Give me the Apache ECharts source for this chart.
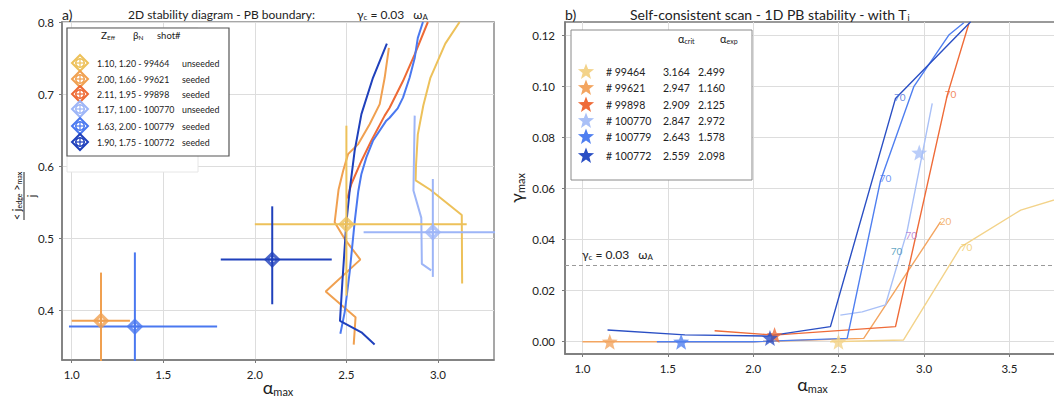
<!DOCTYPE html>
<html><head><meta charset="utf-8">
<script src="https://cdn.jsdelivr.net/npm/echarts@6/dist/echarts.min.js"></script>
<style>html,body{margin:0;padding:0;background:#fff;}#c{width:1054px;height:399px;}</style>
</head><body><div id="c"></div>
<script>
// ---------------- DATA ----------------
const shots = ['99464', '99621', '99898', '100770', '100779', '100772'];
const zeff = ['1.10', '2.00', '2.11', '1.17', '1.63', '1.90'];
const betaN = ['1.20', '1.66', '1.95', '1.00', '2.00', '1.75'];
const seeding = ['unseeded', 'seeded', 'seeded', 'unseeded', 'seeded', 'seeded'];
const alphaCrit = ['3.164', '2.947', '2.909', '2.847', '2.643', '2.559'];
const alphaExp = ['2.499', '1.160', '2.125', '2.972', '1.578', '2.098'];

// panel a) measured points with error bars
const measShots = ['99464', '99621', '100770', '100779', '100772'];
const measAlpha = [2.50, 1.16, 2.972, 1.345, 2.095];
const measJ = [0.519, 0.385, 0.508, 0.377, 0.470];
const measAlphaLo = [2.00, 1.00, 2.594, 0.985, 1.814];
const measAlphaHi = [3.157, 1.318, 3.40, 1.794, 2.420];
const measJLo = [0.420, 0.30, 0.446, 0.30, 0.408];
const measJHi = [0.656, 0.452, 0.582, 0.480, 0.544];

// panel a) PB boundaries at gamma_c = 0.03 wA  [alpha_max, <j_edge>_max/j]
const bnd99464 = [[3.118,0.80],[3.04,0.770],[2.958,0.722],[2.92,0.684],[2.89,0.644],[2.88,0.60],[2.878,0.58],[2.958,0.567],[3.13,0.532],[3.132,0.437]];
const bnd99621 = [[2.732,0.764],[2.709,0.7225],[2.682,0.686],[2.627,0.658],[2.563,0.630],[2.509,0.6165],[2.482,0.593],[2.457,0.567],[2.436,0.522],[2.491,0.4985],[2.576,0.470],[2.387,0.4256],[2.55,0.39],[2.54,0.352]];
const bnd99898 = [[2.945,0.80],[2.873,0.755],[2.809,0.718],[2.736,0.681],[2.709,0.670],[2.636,0.635],[2.582,0.607],[2.527,0.575],[2.505,0.555]];
const bnd100770 = [[2.873,0.67],[2.866,0.566],[2.909,0.528],[2.912,0.464],[2.963,0.455]];
const bnd100779 = [[2.918,0.80],[2.89,0.778],[2.873,0.75],[2.845,0.7225],[2.809,0.695],[2.78,0.68],[2.736,0.667],[2.718,0.663],[2.645,0.635],[2.609,0.612],[2.582,0.589],[2.565,0.565],[2.545,0.522],[2.518,0.453],[2.491,0.3975],[2.467,0.367]];
const bnd100772 = [[2.721,0.770],[2.645,0.7225],[2.582,0.672],[2.545,0.621],[2.518,0.566],[2.50,0.522],[2.478,0.439],[2.465,0.385],[2.582,0.369],[2.654,0.352]];

// panel b) growth rate scans [alpha_max, gamma_max]
const gam99464 = [[2.45,0],[2.88,0.0007],[3.214,0.037],[3.566,0.0515],[3.8,0.0562]];
const gam99621 = [[1.0,0],[1.44,0],[2.0,0],[2.647,0.0013],[3.097,0.047]];
const gam99898 = [[1.774,0.0043],[2.12,0.0026],[2.833,0.0059],[2.999,0.0554],[3.136,0.0965],[3.263,0.1246]];
const gam100770 = [[2.51,0.0104],[2.638,0.0117],[2.774,0.0144],[2.9,0.043],[3.048,0.0933]];
const gam100779 = [[1.436,0],[2.0,0],[2.55,0.0013],[2.745,0.063],[2.94,0.0998],[3.145,0.12],[3.233,0.1248]];
const gam100772 = [[1.147,0.0046],[1.6,0.0027],[2.08,0.0022],[2.452,0.0059],[2.833,0.0952],[3.273,0.1252]];
const starGamma = [0, 0, 0.0026, 0.074, 0, 0.0015];
const gammaC = 0.03;

// panel b) mode-number annotations
const annText = ['70', '70', '70', '70', '70', '20', '70'];
const annAlpha = [2.858, 2.774, 3.155, 2.839, 2.925, 3.126, 3.249];
const annGamma = [0.0956, 0.0639, 0.0969, 0.0356, 0.0418, 0.0473, 0.0369];

// tick values
const aXTicks = [1.0, 1.5, 2.0, 2.5, 3.0];
const aYTicks = [0.4, 0.5, 0.6, 0.7, 0.8];
const bXTicks = [1.0, 1.5, 2.0, 2.5, 3.0, 3.5];
const bYTicks = [0.00, 0.02, 0.04, 0.06, 0.08, 0.10, 0.12];

// ---------------- STYLE ----------------
const FONT = 'Lato, "Open Sans", sans-serif';
const colA = {'99464':'#EDC15A','99621':'#F0A050','99898':'#EE6A35','100770':'#9DB5F7','100779':'#4A78F0','100772':'#1F40BC'};
const colB = {'99464':'#F3D38A','99621':'#F3A560','99898':'#EF6B38','100770':'#A9C0F7','100779':'#4F7FF0','100772':'#2A4FC4'};
const annColor = ['#3F6AD8','#4A78F0','#EE6A35','#3A8FB5','#B070D0','#F0A050','#F0C860'];

const diamondD = 'M0,-10L10,0L0,10L-10,0Z M5.5,0A5.5,5.5,0,1,1,-5.5,0A5.5,5.5,0,1,1,5.5,0Z M0,-5.5L0,5.5 M-5.5,0L5.5,0';
function starPts(cx, cy, R) {
  const pts = [];
  for (let i = 0; i < 10; i++) {
    const r = i % 2 ? 0.42 : 1, a = -Math.PI / 2 + i * Math.PI / 5;
    pts.push([cx + r * Math.cos(a) * R, cy + r * Math.sin(a) * R]);
  }
  return pts;
}
const starPath = 'M' + starPts(0, 0, 10).map(p => p[0].toFixed(3) + ',' + p[1].toFixed(3)).join('L') + 'Z';

const subRich = {
  a: {fontFamily: FONT, fontSize: 18, color: '#222'},
  s: {fontFamily: FONT, fontSize: 11, color: '#222', verticalAlign: 'bottom', padding: [9, 0, 0, 0]}
};

function axis(gridIndex, min, max, ticks, digits, margin, extra) {
  return Object.assign({
    type: 'value', gridIndex, min, max,
    axisLine: {show: true, onZero: false, lineStyle: {color: '#7a7a7a', width: 1.5}},
    axisTick: {show: true, length: 3, customValues: ticks, lineStyle: {color: '#7a7a7a'}},
    axisLabel: {customValues: ticks, formatter: v => v.toFixed(digits), color: '#222', fontFamily: FONT, fontSize: 11.5, margin},
    splitLine: {show: true, lineStyle: {color: '#dddddd', width: 1}}
  }, extra || {});
}

const series = [];
// panel a boundaries
[['99464', bnd99464], ['99621', bnd99621], ['99898', bnd99898], ['100770', bnd100770], ['100779', bnd100779], ['100772', bnd100772]].forEach(([s, d]) => {
  series.push({type: 'line', xAxisIndex: 0, yAxisIndex: 0, data: d, showSymbol: false, symbol: 'none',
    lineStyle: {color: colA[s], width: 2}, z: 2});
});
// panel a error bars + markers
measShots.forEach((s, i) => {
  series.push({type: 'line', xAxisIndex: 0, yAxisIndex: 0, symbol: 'none', lineStyle: {color: colA[s], width: 2}, z: 3,
    data: [[measAlphaLo[i], measJ[i]], [measAlphaHi[i], measJ[i]]]});
  series.push({type: 'line', xAxisIndex: 0, yAxisIndex: 0, symbol: 'none', lineStyle: {color: colA[s], width: 2}, z: 3,
    data: [[measAlpha[i], measJLo[i]], [measAlpha[i], measJHi[i]]]});
  series.push({type: 'scatter', xAxisIndex: 0, yAxisIndex: 0, symbol: 'path://' + diamondD, symbolSize: 14, z: 4,
    itemStyle: {color: 'rgba(255,255,255,0)', borderColor: colA[s], borderWidth: 2},
    data: [[measAlpha[i], measJ[i]]]});
});
// panel b lines
[['99464', gam99464], ['99621', gam99621], ['99898', gam99898], ['100770', gam100770], ['100779', gam100779], ['100772', gam100772]].forEach(([s, d], k) => {
  const o = {type: 'line', xAxisIndex: 1, yAxisIndex: 1, data: d, symbol: 'none', lineStyle: {color: colB[s], width: 1.4}, z: 2};
  if (k === 0) {
    o.markLine = {silent: true, symbol: 'none', animation: false, label: {show: false},
      lineStyle: {type: [4, 3], color: '#9a9a9a', width: 1}, data: [{yAxis: gammaC}]};
  }
  series.push(o);
});
// panel b stars
shots.forEach((s, i) => {
  series.push({type: 'scatter', xAxisIndex: 1, yAxisIndex: 1, symbol: 'path://' + starPath, symbolSize: 16, z: 5,
    itemStyle: {color: colB[s]}, data: [[parseFloat(alphaExp[i]), starGamma[i]]]});
});
// panel b annotations
series.push({type: 'scatter', xAxisIndex: 1, yAxisIndex: 1, symbolSize: 1, z: 6, itemStyle: {color: 'rgba(0,0,0,0)'},
  label: {show: true, position: 'inside', formatter: p => p.name, fontFamily: FONT, fontSize: 10},
  data: annText.map((t, i) => ({name: t, value: [annAlpha[i], annGamma[i]], label: {color: annColor[i]}}))});

// ---------------- GRAPHIC (titles, legends, labels) ----------------
const G = [];
function txt(x, y, text, size, extra) {
  G.push({type: 'text', z: 100, x, y, style: Object.assign({text, fontFamily: FONT, fontSize: size, fill: '#222', verticalAlign: 'middle'}, extra || {})});
}
const smallRich = (base, sub, col) => ({
  n: {fontFamily: FONT, fontSize: base, color: col}, s: {fontFamily: FONT, fontSize: sub, color: col, verticalAlign: 'bottom', padding: [Math.round(base*0.45), 0, 0, 0]}
});
txt(62, 14, 'a)', 14);
txt(128, 14, '2D stability diagram - PB boundary:', 12);
txt(357, 14, '{n|γ}{s|c}{n| = 0.03   ω}{s|A}', 12, {rich: smallRich(12, 8, '#222')});
txt(565, 14, 'b)', 14);
txt(630, 14, '{n|Self-consistent scan - 1D PB stability - with T}{s|i}', 14, {rich: smallRich(14, 9, '#222')});
txt(582, 254, '{n|γ}{s|c}{n| = 0.03   ω}{s|A}', 12, {rich: smallRich(12, 8, '#999')});

// left y-axis fraction label
G.push({type: 'group', x: 24, y: 196, rotation: Math.PI / 2, z: 100, children: [
  {type: 'text', z: 100, x: 0, y: -2, style: {text: '{n|< j}{s|edge}{n| >}{s|max}', align: 'center', verticalAlign: 'bottom', rich: smallRich(11, 7, '#222')}},
  {type: 'line', z: 100, shape: {x1: -24, y1: 0, x2: 24, y2: 0}, style: {stroke: '#222', lineWidth: 1}},
  {type: 'text', z: 100, x: 0, y: 2, style: {text: 'j', fontFamily: FONT, fontSize: 11, fill: '#222', align: 'center', verticalAlign: 'top'}}
]});

// left legend box
G.push({type: 'rect', z: 99, shape: {x: 67, y: 28, width: 131, height: 144}, style: {fill: '#fff', stroke: '#e6e6e6', lineWidth: 1}});
G.push({type: 'rect', z: 99, shape: {x: 67, y: 28, width: 162, height: 128}, style: {fill: '#fff', stroke: '#555', lineWidth: 1.2}});
txt(101, 35, '{n|Z}{s|Eff}', 10, {rich: smallRich(10, 6.5, '#222')});
txt(133, 35, '{n|β}{s|N}', 10, {rich: smallRich(10, 6.5, '#222')});
txt(157, 35, 'shot#', 9.5);
const legAY = [63, 79, 94, 109, 126, 142];
shots.forEach((s, i) => {
  const cx = 80, cy = legAY[i], c = colA[s];
  G.push({type: 'polygon', z: 101, shape: {points: [[cx, cy - 8], [cx + 8, cy], [cx, cy + 8], [cx - 8, cy]]}, style: {fill: 'none', stroke: c, lineWidth: 2}});
  G.push({type: 'circle', z: 101, shape: {cx, cy, r: 4.3}, style: {fill: 'none', stroke: c, lineWidth: 1.5}});
  G.push({type: 'line', z: 101, shape: {x1: cx - 4.3, y1: cy, x2: cx + 4.3, y2: cy}, style: {stroke: c, lineWidth: 1.2}});
  G.push({type: 'line', z: 101, shape: {x1: cx, y1: cy - 4.3, x2: cx, y2: cy + 4.3}, style: {stroke: c, lineWidth: 1.2}});
  txt(97, legAY[i], zeff[i] + ', ' + betaN[i] + ' - ' + shots[i], 8.8);
  txt(182, legAY[i], seeding[i], 8.8);
});

// right legend box
G.push({type: 'rect', z: 99, shape: {x: 571, y: 30, width: 181, height: 150}, style: {fill: '#fff', stroke: '#8a8a8a', lineWidth: 1}});
txt(678, 38, '{n|α}{s|crit}', 11, {rich: smallRich(11, 7, '#222')});
txt(720, 38, '{n|α}{s|exp}', 11, {rich: smallRich(11, 7, '#222')});
const legBY = [72, 88, 105, 121, 137, 156];
shots.forEach((s, i) => {
  G.push({type: 'polygon', z: 101, shape: {points: starPts(586, legBY[i], 8.5)}, style: {fill: colB[s], stroke: 'none'}});
  txt(606, legBY[i], '# ' + shots[i], 10.5);
  txt(663, legBY[i], alphaCrit[i], 10.5);
  txt(698, legBY[i], alphaExp[i], 10.5);
});

const chart = echarts.init(document.getElementById('c'), null, {renderer: 'svg'});
chart.setOption({
  animation: false,
  backgroundColor: '#fff',
  grid: [
    {left: 62, top: 22, width: 432, height: 338, show: true, borderColor: '#8a8a8a', borderWidth: 1.5, containLabel: false, outerBoundsMode: 'none'},
    {left: 565, top: 22, width: 495, height: 332, show: true, borderColor: '#7a7a7a', borderWidth: 1.5, containLabel: false, outerBoundsMode: 'none'}
  ],
  xAxis: [
    axis(0, 0.947, 3.306, aXTicks, 1, 8, {name: '{a|α}{s|max}', nameLocation: 'middle', nameGap: 17, nameMoveOverlap: false, nameTextStyle: {rich: subRich}}),
    axis(1, 0.898, 3.796, bXTicks, 1, 8, {name: '{a|α}{s|max}', nameLocation: 'middle', nameGap: 20, nameMoveOverlap: false, nameTextStyle: {rich: subRich}})
  ],
  yAxis: [
    axis(0, 0.3306, 0.8, aYTicks, 1, 8),
    axis(1, -0.0048, 0.1251, bYTicks, 2, 10, {name: '{a|γ}{s|max}', nameLocation: 'middle', nameGap: 39, nameMoveOverlap: false, nameRotate: 90, nameTextStyle: {rich: subRich}})
  ],
  series,
  graphic: G
});
</script></body></html>
